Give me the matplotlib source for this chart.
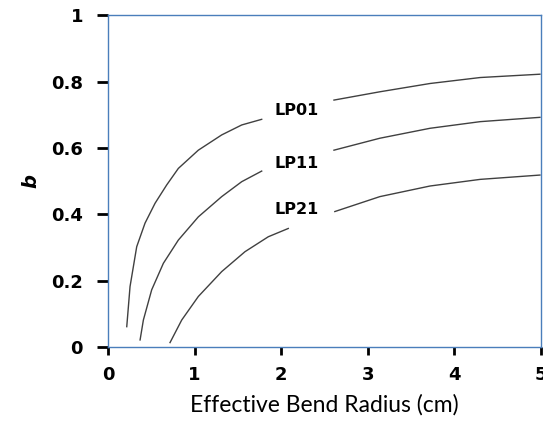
import numpy as np
import matplotlib.pyplot as plt

# curves; NaN marks the gap left for the label
lp01_x = [0.216, 0.254, 0.331, 0.427, 0.543, 0.677, 0.812, 1.043, 1.313, 1.544, 1.775,
          np.nan, 2.61, 3.14, 3.72, 4.30, 4.99]
lp01_b = [0.061, 0.182, 0.302, 0.373, 0.433, 0.488, 0.538, 0.593, 0.639, 0.669, 0.686,
          np.nan, 0.744, 0.769, 0.794, 0.812, 0.822]

lp11_x = [0.37, 0.408, 0.504, 0.639, 0.812, 1.043, 1.313, 1.544, 1.775,
          np.nan, 2.61, 3.14, 3.72, 4.30, 4.99]
lp11_b = [0.021, 0.081, 0.172, 0.252, 0.322, 0.392, 0.453, 0.498, 0.530,
          np.nan, 0.593, 0.629, 0.659, 0.679, 0.692]

lp21_x = [0.716, 0.851, 1.043, 1.313, 1.582, 1.851, 2.082,
          np.nan, 2.62, 3.14, 3.72, 4.30, 4.99]
lp21_b = [0.013, 0.081, 0.152, 0.227, 0.287, 0.332, 0.357,
          np.nan, 0.408, 0.453, 0.485, 0.505, 0.518]

labels = ['LP01', 'LP11', 'LP21']
label_x = [2.18, 2.18, 2.18]
label_b = [0.714, 0.554, 0.413]

xticks = [0, 1, 2, 3, 4, 5]
yticks = [0, 0.2, 0.4, 0.6, 0.8, 1]
ytick_labels = ['0', '0.2', '0.4', '0.6', '0.8', '1']

fig = plt.figure(figsize=(5.43, 4.21), dpi=100)
ax = fig.add_axes([0.199, 0.176, 0.797, 0.788])

for xs, bs in [(lp01_x, lp01_b), (lp11_x, lp11_b), (lp21_x, lp21_b)]:
    ax.plot(xs, bs, color='#404040', lw=1.0, solid_joinstyle='round')

for t, x, y in zip(labels, label_x, label_b):
    ax.text(x, y, t, ha='center', va='center', fontsize=11.5, fontweight='bold')

ax.set_xlim(0, 5)
ax.set_ylim(0, 1)
ax.set_xticks(xticks)
ax.set_yticks(yticks)
ax.set_yticklabels(ytick_labels)
for lab in ax.get_xticklabels() + ax.get_yticklabels():
    lab.set_fontweight('bold')
    lab.set_fontsize(13)
ax.tick_params(axis='y', direction='out', length=8, width=2, color='black', pad=10)
ax.tick_params(axis='x', direction='out', length=6, width=2, color='black', pad=8)

for s in ax.spines.values():
    s.set_color('#4a7ebb')
    s.set_linewidth(1)

ax.set_xlabel('Effective Bend Radius (cm)', fontsize=16.5, family='Lato', labelpad=7)
ax.set_ylabel('b', fontsize=14, fontstyle='italic', fontweight='bold', labelpad=8)

plt.savefig('out.png', dpi=100)
